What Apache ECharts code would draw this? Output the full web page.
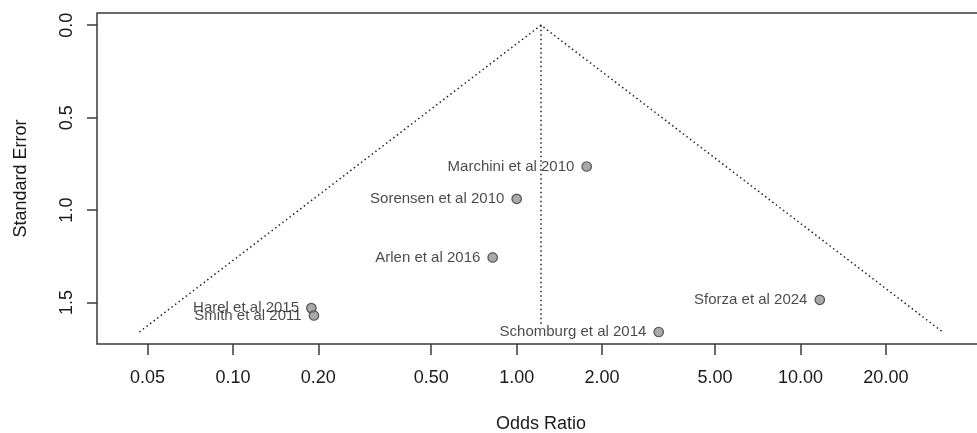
<!DOCTYPE html>
<html>
<head>
<meta charset="utf-8">
<script src="https://cdn.jsdelivr.net/npm/echarts@6/dist/echarts.min.js"></script>
<style>
html,body{margin:0;padding:0;background:#fff;}
#chart{width:977px;height:433px;}
</style>
</head>
<body>
<div id="chart"></div>
<script>
// Studies
var studies = ['Marchini et al 2010','Sorensen et al 2010','Arlen et al 2016','Harel et al 2015','Smith et al 2011','Sforza et al 2024','Schomburg et al 2014'];
var oddsRatio = [1.765, 1.00, 0.823, 0.189, 0.193, 11.7, 3.166];
var stdError  = [0.764, 0.939, 1.256, 1.530, 1.570, 1.485, 1.659];
// Funnel (pseudo-confidence region) and reference line
var funnelOR = [0.0468, 1.218, 31.7];
var funnelSE = [1.659, 0, 1.659];
var refOR = [1.218, 1.218];
var refSE = [0, 1.62];
// Axis ticks
var xTicks = [0.05, 0.10, 0.20, 0.50, 1.00, 2.00, 5.00, 10.00, 20.00];
var yTicks = [0.0, 0.5, 1.0, 1.5];
var xRange = [0.0332, 44.7];
var yRange = [-0.066, 1.724];

var lg = function(v){ return Math.log10(v); };
var FONT = 'Liberation Sans, Arial, sans-serif';
var INK = '#1a1a1a';

var pts = studies.map(function(n, i){ return { value: [lg(oddsRatio[i]), stdError[i]], name: n }; });
var funnel = funnelOR.map(function(v, i){ return [lg(v), funnelSE[i]]; });
var ref = refOR.map(function(v, i){ return [lg(v), refSE[i]]; });

var chart = echarts.init(document.getElementById('chart'), null, {renderer:'canvas'});
chart.setOption({
  animation: false,
  backgroundColor: '#fff',
  grid: { left: 97, top: 13, width: 888, height: 331, show: true, borderColor: '#3a3a3a', borderWidth: 1.5,
    outerBoundsMode: 'none', containLabel: false },
  xAxis: {
    type: 'value',
    min: lg(xRange[0]), max: lg(xRange[1]),
    name: 'Odds Ratio', nameLocation: 'middle', nameGap: 71,
    nameTextStyle: { fontFamily: FONT, fontSize: 18, color: INK },
    axisLine: { show: false, onZero: false },
    splitLine: { show: false },
    axisTick: { show: true, length: 11, inside: false, customValues: xTicks.map(lg), lineStyle: { color: '#3a3a3a', width: 1.5 } },
    axisLabel: { margin: 25, fontFamily: FONT, fontSize: 18, color: INK,
      customValues: xTicks.map(lg),
      formatter: function(v){ return Math.pow(10, v).toFixed(2); } }
  },
  yAxis: {
    type: 'value', inverse: true,
    min: yRange[0], max: yRange[1],
    name: 'Standard Error', nameLocation: 'middle', nameGap: 67,
    nameTextStyle: { fontFamily: FONT, fontSize: 18, color: INK },
    axisLine: { show: false, onZero: false },
    splitLine: { show: false },
    axisTick: { show: true, length: 10, customValues: yTicks, lineStyle: { color: '#3a3a3a', width: 1.5 } },
    axisLabel: { margin: 21, rotate: 90, fontFamily: FONT, fontSize: 18, color: INK,
      customValues: yTicks,
      formatter: function(v){ return v.toFixed(1); } }
  },
  series: [
    { type: 'line', data: funnel, symbol: 'none', silent: true,
      lineStyle: { color: '#222', width: 1.5, type: [1.5, 3] } },
    { type: 'line', data: ref, symbol: 'none', silent: true,
      lineStyle: { color: '#222', width: 1.5, type: [1.5, 3] } },
    { type: 'scatter', data: pts, symbol: 'circle', symbolSize: 9.5,
      itemStyle: { color: '#939393', borderColor: '#333', borderWidth: 1.2 },
      label: { show: true, position: 'left', distance: 7, formatter: '{b}',
        fontFamily: FONT, fontSize: 15, color: INK } }
  ]
});
</script>
</body>
</html>
